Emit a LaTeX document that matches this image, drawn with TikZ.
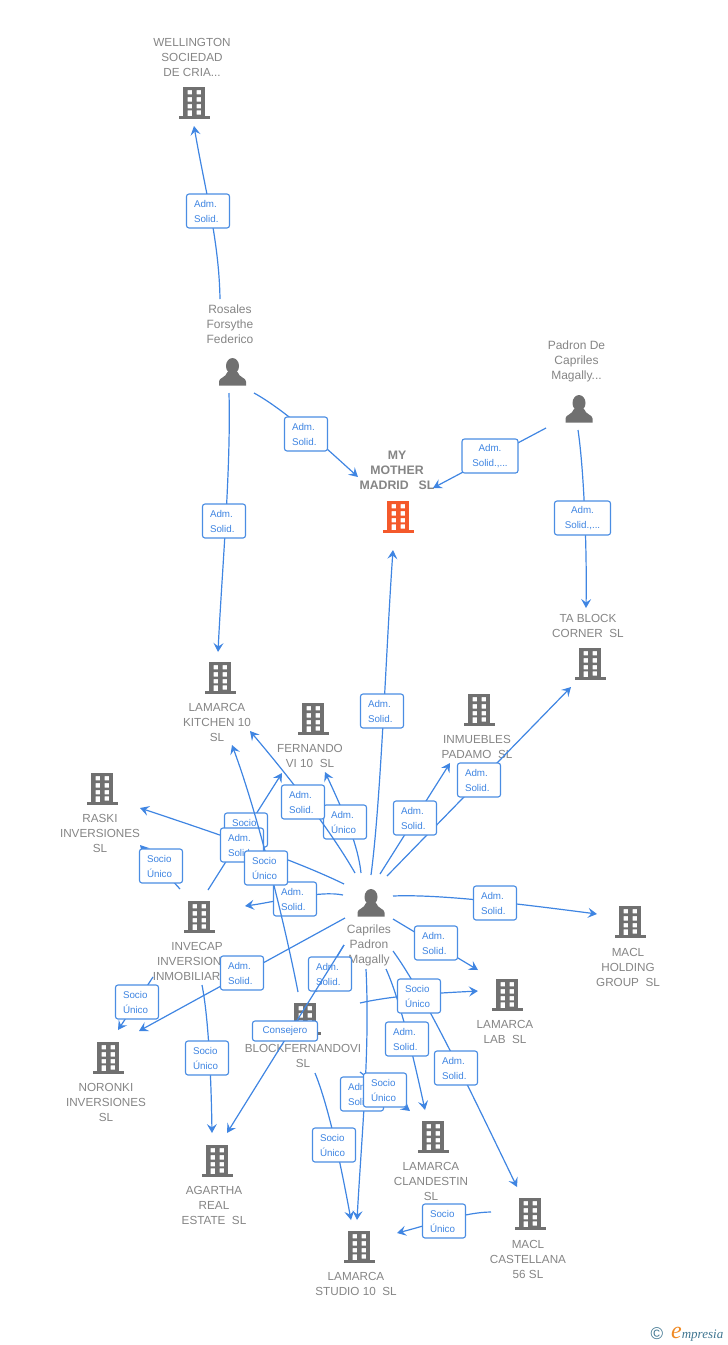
\documentclass[tikz,border=0pt]{standalone}
\usepackage{fontspec}
\setmainfont{Liberation Sans}
\newfontfamily\logofont{Liberation Serif}
\usetikzlibrary{arrows.meta}

\definecolor{iconGray}{HTML}{707070}
\definecolor{iconRed}{HTML}{F4592B}
\definecolor{nameGray}{HTML}{858585}
\definecolor{linkBlue}{HTML}{3F85E2}
\definecolor{boxBlue}{HTML}{4A8DE3}
\definecolor{logoTeal}{HTML}{3F7590}
\definecolor{logoOrange}{HTML}{F08A24}

\tikzset{
	building/.pic={
		\fill[#1,even odd rule] (-10.8,-16) rectangle (10.8,13.5)
			(-6.5,-13) rectangle ++(4.6,4.4) (2.5,-13) rectangle ++(4.6,4.4)
			(-6.5,-5.8) rectangle ++(4.6,4.4) (2.5,-5.8) rectangle ++(4.6,4.4)
			(-6.5,1) rectangle ++(4.6,4.4) (2.5,1) rectangle ++(4.6,4.4)
			(-6.5,7.3) rectangle ++(4.6,6.2) (2.5,7.3) rectangle ++(4.6,4.4);
		\fill[#1] (-15.5,13) rectangle (15.5,16);
	},
	person/.pic={
		\fill[iconGray] (0,-6) ellipse (6.5 and 8);
		\fill[iconGray] (-13.5,13.5) -- (-13.5,9.5) .. controls (-13.5,5.5) and (-7,6) .. (-5,0) -- (5,0)
			.. controls (7,6) and (13.5,5.5) .. (13.5,9.5) -- (13.5,13.5) -- cycle;
	},
	caption/.style={text=nameGray,align=center,inner sep=0pt,font=\fontsize{11.7}{15}\selectfont},
	link/.style={draw=linkBlue,line width=1.2pt,-{Stealth[length=9pt,width=10pt,inset=3.5pt]}},
	lbl/.style={draw=boxBlue,fill=white,line width=1.1pt,rounded corners=2.5pt,text=linkBlue,
		align=left,text width=28pt,inner xsep=7.5pt,inner ysep=2.5pt,minimum height=34pt,
		font=\fontsize{9.8}{15}\selectfont},
	lblwide/.style={lbl,align=center,text width=41pt},
	lblone/.style={lbl,align=center,text width=50pt,minimum height=20pt},
}

\begin{document}
\begin{tikzpicture}[x=1pt,y=-1pt]
	\useasboundingbox (0,0) rectangle (728,1345);

	%BUILDINGS
	\pic (wellington) at (194,103) {building=iconGray};
	\pic (mymother) at (398,517) {building=iconRed};
	\pic (kitchen) at (220,678) {building=iconGray};
	\pic (fernando) at (313,719) {building=iconGray};
	\pic (inmuebles) at (479,710) {building=iconGray};
	\pic (tablock) at (590,664) {building=iconGray};
	\pic (raski) at (102,789) {building=iconGray};
	\pic (invecap) at (199,917) {building=iconGray};
	\pic (noronki) at (108,1058) {building=iconGray};
	\pic (agartha) at (217,1161) {building=iconGray};
	\pic (blockfer) at (305,1019) {building=iconGray};
	\pic (lab) at (507,995) {building=iconGray};
	\pic (clandestin) at (433,1137) {building=iconGray};
	\pic (holding) at (630,922) {building=iconGray};
	\pic (castellana) at (530,1214) {building=iconGray};
	\pic (studio) at (359,1247) {building=iconGray};
	%PERSONS
	\pic (rosales) at (232.5,372) {person};
	\pic (padron) at (579,409) {person};
	\pic (capriles) at (371,903) {person};

	%LABELS
	\node[caption] (wellingtonName) at (192,57) {WELLINGTON\\SOCIEDAD\\DE CRIA...};
	\node[caption,font=\fontsize{12.3}{15}\selectfont\bfseries] (mymotherName) at (397,470) {MY\\MOTHER\\MADRID\hspace{10pt}SL};
	\node[caption] (kitchenName) at (217,722) {LAMARCA\\KITCHEN 10\\SL};
	\node[caption] (fernandoName) at (310,755.5) {FERNANDO\\VI 10\ \ SL};
	\node[caption] (inmueblesName) at (477,746.5) {INMUEBLES\\PADAMO\ \ SL};
	\node[caption] (tablockName) at (588,625.5) {TA BLOCK\\CORNER\ \ SL};
	\node[caption] (raskiName) at (100,833) {RASKI\\INVERSIONES\\SL};
	\node[caption] (invecapName) at (197,961) {INVECAP\\INVERSIONES\\INMOBILIARIA...};
	\node[caption] (noronkiName) at (106,1102) {NORONKI\\INVERSIONES\\SL};
	\node[caption] (agarthaName) at (214,1205) {AGARTHA\\REAL\\ESTATE\ \ SL};
	\node[caption] (blockferName) at (303,1055.5) {BLOCKFERNANDOVI\\SL};
	\node[caption] (labName) at (505,1031.5) {LAMARCA\\LAB\ \ SL};
	\node[caption] (clandestinName) at (431,1181) {LAMARCA\\CLANDESTIN\\SL};
	\node[caption] (holdingName) at (628,967) {MACL\\HOLDING\\GROUP\ \ SL};
	\node[caption] (castellanaName) at (528,1259) {MACL\\CASTELLANA\\56 SL};
	\node[caption] (studioName) at (356,1283.5) {LAMARCA\\STUDIO 10\ \ SL};
	\node[caption,font=\fontsize{12}{15}\selectfont] (rosalesName) at (230,324) {Rosales\\Forsythe\\Federico};
	\node[caption,font=\fontsize{12}{15}\selectfont] (padronName) at (576.5,361) {Padron De\\Capriles\\Magally...};
	\node[caption,font=\fontsize{12}{15}\selectfont] (caprilesName) at (369,945) {Capriles\\Padron\\Magally};

	%LINES FROM ROSALES
	\coordinate (rosalesA) at (220,299); \coordinate (wellingtonIn) at (194,126);
	\draw[link] (rosalesA) .. controls (219,240) and (205,190) .. (wellingtonIn);
	\node[lbl] (boxWellington) at (208,211) {Adm.\\Solid.};
	\coordinate (rosalesB) at (229,393); \coordinate (kitchenInA) at (218,652);
	\draw[link] (rosalesB) .. controls (231,470) and (222,570) .. (kitchenInA);
	\node[lbl] (boxKitchen) at (224,521) {Adm.\\Solid.};
	\coordinate (rosalesC) at (254,393); \coordinate (mymotherInA) at (358,477);
	\draw[link] (rosalesC) .. controls (285,410) and (325,447) .. (mymotherInA);
	\node[lbl] (boxMother) at (306,434) {Adm.\\Solid.};

	%LINES FROM PADRON
	\coordinate (padronA) at (546,428); \coordinate (mymotherInB) at (433,488);
	\draw[link] (padronA) -- (mymotherInB);
	\node[lblwide] (boxPadronMother) at (490,456) {Adm.\\Solid.,...};
	\coordinate (padronB) at (578,430); \coordinate (tablockInA) at (586,608);
	\draw[link] (padronB) .. controls (584,470) and (587,550) .. (tablockInA);
	\node[lblwide] (boxPadronBlock) at (582.5,518) {Adm.\\Solid.,...};

	%LINES FROM CAPRILES
	\coordinate (caprilesA) at (371,875); \coordinate (mymotherInC) at (393,550);
	\draw[link] (caprilesA) .. controls (381,800) and (386,650) .. (mymotherInC);
	\node[lbl] (boxCapMother) at (382,711) {Adm.\\Solid.};
	\coordinate (caprilesB) at (387,876); \coordinate (tablockInB) at (571,687);
	\draw[link] (caprilesB) -- (tablockInB);
	\node[lbl] (boxCapBlock) at (479,780) {Adm.\\Solid.};
	\coordinate (caprilesC) at (380,874); \coordinate (inmueblesIn) at (450,763);
	\draw[link] (caprilesC) -- (inmueblesIn);
	\node[lbl] (boxCapInmuebles) at (415,818) {Adm.\\Solid.};
	\coordinate (caprilesD) at (361,873); \coordinate (fernandoInA) at (325,772);
	\draw[link] (caprilesD) .. controls (358,845) and (345,815) .. (fernandoInA);
	\node[lbl] (boxCapFernando) at (345,822) {Adm.\\Único};
	\coordinate (caprilesE) at (355,873); \coordinate (kitchenInB) at (250,731);
	\draw[link] (caprilesE) .. controls (335,838) and (300,790) .. (kitchenInB);
	\node[lbl] (boxCapKitchen) at (303,802) {Adm.\\Solid.};

	\coordinate (invecapA) at (208,890); \coordinate (fernandoInB) at (282,773);
	\draw[link] (invecapA) -- (fernandoInB);
	\node[lbl] (boxInvFernando) at (246,830) {Socio\\Único};
	\coordinate (caprilesF) at (344,884); \coordinate (raskiInA) at (140,808);
	\draw[link] (caprilesF) .. controls (295,860) and (215,833) .. (raskiInA);
	\node[lbl] (boxCapRaski) at (242,845) {Adm.\\Solid.};
	\coordinate (caprilesG) at (343,895); \coordinate (invecapIn) at (245,906);
	\draw[link] (caprilesG) .. controls (320,890) and (275,902) .. (invecapIn);
	\node[lbl] (boxCapInvecap) at (295,899) {Adm.\\Solid.};
	\coordinate (blockferA) at (298,992); \coordinate (kitchenInC) at (232,745);
	\draw[link] (blockferA) .. controls (285,925) and (258,815) .. (kitchenInC);
	\node[lbl] (boxBlockKitchen) at (266,868) {Socio\\Único};

	\coordinate (invecapB) at (180,889); \coordinate (raskiInB) at (140,845);
	\draw[link] (invecapB) -- (raskiInB);
	\node[lbl] (boxInvRaski) at (161,866) {Socio\\Único};
	\coordinate (caprilesH) at (345,918); \coordinate (noronkiInA) at (139,1031);
	\draw[link] (caprilesH) -- (noronkiInA);
	\node[lbl] (boxCapNoronki) at (242,973) {Adm.\\Solid.};
	\coordinate (invecapC) at (153,977); \coordinate (noronkiInB) at (118,1030);
	\draw[link] (invecapC) -- (noronkiInB);
	\node[lbl] (boxInvNoronki) at (137,1002) {Socio\\Único};
	\coordinate (invecapD) at (202,985); \coordinate (agarthaInA) at (212,1133);
	\draw[link] (invecapD) .. controls (208,1015) and (211,1070) .. (agarthaInA);
	\node[lbl] (boxInvAgartha) at (207,1058) {Socio\\Único};

	\coordinate (caprilesI) at (344,945); \coordinate (blockferIn) at (316,992); \coordinate (agarthaInB) at (227,1133);
	\draw[link] (caprilesI) -- (blockferIn);
	\node[lbl] (boxCapBlockfer) at (330,974) {Adm.\\Solid.};
	\draw[link] (caprilesI) -- (agarthaInB);
	\node[lblone] (boxCapAgartha) at (285,1031) {Consejero};

	\coordinate (caprilesJ) at (393,919); \coordinate (labInA) at (478,970);
	\draw[link] (caprilesJ) -- (labInA);
	\node[lbl] (boxCapLab) at (436,943) {Adm.\\Solid.};
	\coordinate (caprilesK) at (393,896); \coordinate (holdingIn) at (597,914);
	\draw[link] (caprilesK) .. controls (440,894) and (520,904) .. (holdingIn);
	\node[lbl] (boxCapHolding) at (495,903) {Adm.\\Solid.};
	\coordinate (caprilesL) at (386,969); \coordinate (clandestinInA) at (425,1110);
	\draw[link] (caprilesL) .. controls (400,1000) and (413,1055) .. (clandestinInA);
	\node[lbl] (boxCapClandestin) at (407,1039) {Adm.\\Solid.};
	\coordinate (caprilesM) at (393,951); \coordinate (castellanaIn) at (517,1187);
	\draw[link] (caprilesM) .. controls (425,995) and (470,1090) .. (castellanaIn);
	\node[lbl] (boxCapCastellana) at (456,1068) {Adm.\\Solid.};
	\coordinate (blockferB) at (360,1003); \coordinate (labInB) at (478,991);
	\draw[link] (blockferB) .. controls (395,995) and (440,993) .. (labInB);
	\node[lbl] (boxBlockLab) at (419,996) {Socio\\Único};

	\coordinate (caprilesN) at (366,969); \coordinate (studioInA) at (357,1220);
	\draw[link] (caprilesN) .. controls (370,1050) and (362,1130) .. (studioInA);
	\node[lbl] (boxCapStudio) at (362,1094) {Adm.\\Solid.};
	\coordinate (blockferC) at (360,1072); \coordinate (clandestinInB) at (410,1111);
	\draw[link] (blockferC) -- (clandestinInB);
	\node[lbl] (boxBlockClandestin) at (385,1090) {Socio\\Único};
	\coordinate (blockferD) at (315,1073); \coordinate (studioInB) at (351,1220);
	\draw[link] (blockferD) .. controls (328,1105) and (340,1160) .. (studioInB);
	\node[lbl] (boxBlockStudio) at (334,1145) {Socio\\Único};
	\coordinate (castellanaA) at (491,1212); \coordinate (studioInC) at (397,1233);
	\draw[link] (castellanaA) .. controls (465,1212) and (425,1226) .. (studioInC);
	\node[lbl] (boxCastStudio) at (444,1221) {Socio\\Único};

	%LOGO
	\node[text=logoTeal,inner sep=0pt,font=\fontsize{17}{17}\selectfont] (logoC) at (657,1334) {©};
	\node[anchor=base west,inner sep=0pt,font=\logofont\itshape\fontsize{13}{15}\selectfont,text=logoTeal] (logoText) at (671,1338)
		{{\color{logoOrange}\fontsize{24}{15}\selectfont e}mpresia};
\end{tikzpicture}
\end{document}
